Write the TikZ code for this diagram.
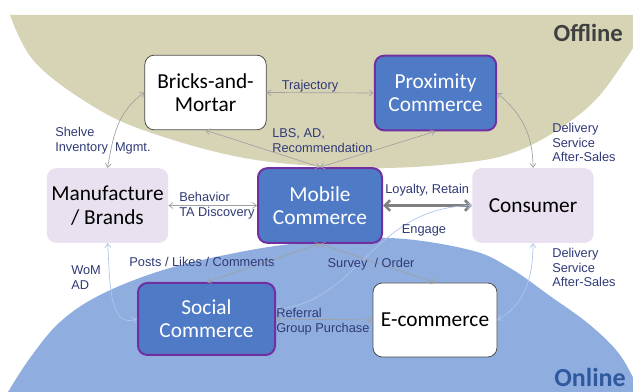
\documentclass[tikz,border=0pt]{standalone}
\usepackage{fontspec}
\setmainfont{Carlito}
\newfontfamily\lblfont{Liberation Sans}
\usetikzlibrary{arrows.meta}
\definecolor{offc}{RGB}{215,212,182}
\definecolor{onc}{RGB}{143,174,223}
\definecolor{bluebox}{RGB}{79,123,198}
\definecolor{purp}{RGB}{112,48,160}
\definecolor{lav}{RGB}{233,225,239}
\definecolor{navy}{RGB}{48,58,118}
\definecolor{lgray}{RGB}{160,160,160}
\definecolor{dgray}{RGB}{128,128,128}
\definecolor{lblue}{RGB}{175,196,236}
\definecolor{onlinec}{RGB}{47,88,158}
\definecolor{offlinec}{RGB}{64,64,64}
\begin{document}
\begin{tikzpicture}[x=0.75pt,y=-0.75pt,
 box/.style={rounded corners=7pt, minimum width=91pt, minimum height=56pt, align=center, inner sep=0pt, font=\fontsize{16}{17.5}\selectfont},
 whitebox/.style={box, draw=black!70, fill=white, line width=0.6pt, text=black},
 bluebx/.style={box, draw=purp, fill=bluebox, line width=1.5pt, text=white},
 lavbox/.style={box, fill=lav, text=black},
 lbl/.style={font=\lblfont\fontsize{9.6}{10.9}\selectfont, text=navy, inner sep=0pt, align=left},
 conn/.style={draw=lgray, line width=0.5pt, {Straight Barb[length=3pt,width=4.5pt]}-{Straight Barb[length=3pt,width=4.5pt]}},
 bconn/.style={conn, draw=lblue},
 thickconn/.style={draw=dgray, line width=1.9pt, {Straight Barb[length=4pt,width=8pt]}-{Straight Barb[length=4pt,width=8pt]}},
 region/.style={font=\bfseries\fontsize{18.5}{20}\selectfont, inner sep=0pt, anchor=east}
]
\useasboundingbox (0,0) rectangle (633,392);
\fill[white] (0,0) rectangle (633,392);
% offline region
\fill[offc] plot[smooth, tension=0.6] coordinates {(10,15) (33,60) (83,100) (143,130) (250,159) (370,168) (470,162) (520,150) (565,125) (600,95) (633,48)} -- (633,15) -- cycle;
% online region
\fill[onc] plot[smooth, tension=0.6] coordinates {(8,392) (30,358) (60,322) (100,295) (160,271) (230,254) (300,243) (390,238) (470,250) (510,268) (550,296) (590,325) (620,355) (640,392)} -- cycle;

\node[region, text=offlinec] (offl) at (623,33) {Offline};
\node[region, text=onlinec, font=\bfseries\fontsize{19.5}{21}\selectfont] (onl) at (626,377) {Online};

% boxes
\node[whitebox] (bricks) at (205.5,92.5) {Bricks-and-\\Mortar};
\node[bluebx] (prox) at (435.5,93) {Proximity\\Commerce};
\node[lavbox] (manu) at (107.5,205.5) {Manufacture\\/ Brands};
\node[bluebx, minimum width=93pt] (mobile) at (320,205.5) {Mobile\\Commerce};
\node[lavbox] (cons) at (533,205.5) {Consumer};
\node[bluebx, minimum width=102.75pt, minimum height=54pt] (social) at (206.5,319) {Social\\Commerce};
\node[whitebox, minimum width=93pt, minimum height=55.5pt] (ecom) at (435,320) {E-commerce};

% connectors
\draw[conn] (bricks.east) -- (prox.west);
\draw[conn] (bricks.south) -- (mobile.north);
\draw[conn] (prox.south) -- (mobile.north);
\draw[conn] (manu.north) to[out=80,in=215] (bricks.west);
\draw[conn] (prox.east) to[out=-40,in=90] (cons.north);
\draw[conn] (manu.east) -- (mobile.west);
\draw[thickconn] (mobile.east) -- (cons.west);
\draw[conn] (mobile.south) -- (social.north);
\draw[conn] (mobile.south) -- (ecom.north);
\draw[bconn] (manu.south) to[out=-85,in=200] (social.west);
\draw[conn] (social.east) -- (ecom.west);
\draw[bconn] (social.8) .. controls +(83,-7) and +(-100,2) .. (cons.west);
\draw[bconn] (ecom.east) to[out=30,in=-90] (cons.south);

% labels
\node[lbl] (traj) at (310,86) {Trajectory};
\node[lbl, anchor=west] (lbs) at (272,140.5) {LBS, AD,\\Recommendation};
\node[lbl, anchor=west] (shelve) at (55,140.5) {Shelve\\Inventory\ \ Mgmt.};
\node[lbl, anchor=west] (del1) at (552,142.5) {Delivery\\Service\\After-Sales};
\node[lbl, anchor=west] (beh) at (179,205.5) {Behavior\\TA Discovery};
\node[lbl, anchor=west] (loy) at (385,190) {Loyalty,\ Retain};
\node[lbl] (eng) at (424,230) {Engage};
\node[lbl] (posts) at (202,262) {Posts / Likes / Comments};
\node[lbl] (survey) at (371,264) {Survey\ \ / Order};
\node[lbl, anchor=west] (wom) at (71,277.5) {WoM\\AD};
\node[lbl, anchor=west] (del2) at (552,267.5) {Delivery\\Service\\After-Sales};
\node[lbl, anchor=west] (ref) at (276,321.5) {Referral\\Group Purchase};
\end{tikzpicture}
\end{document}
